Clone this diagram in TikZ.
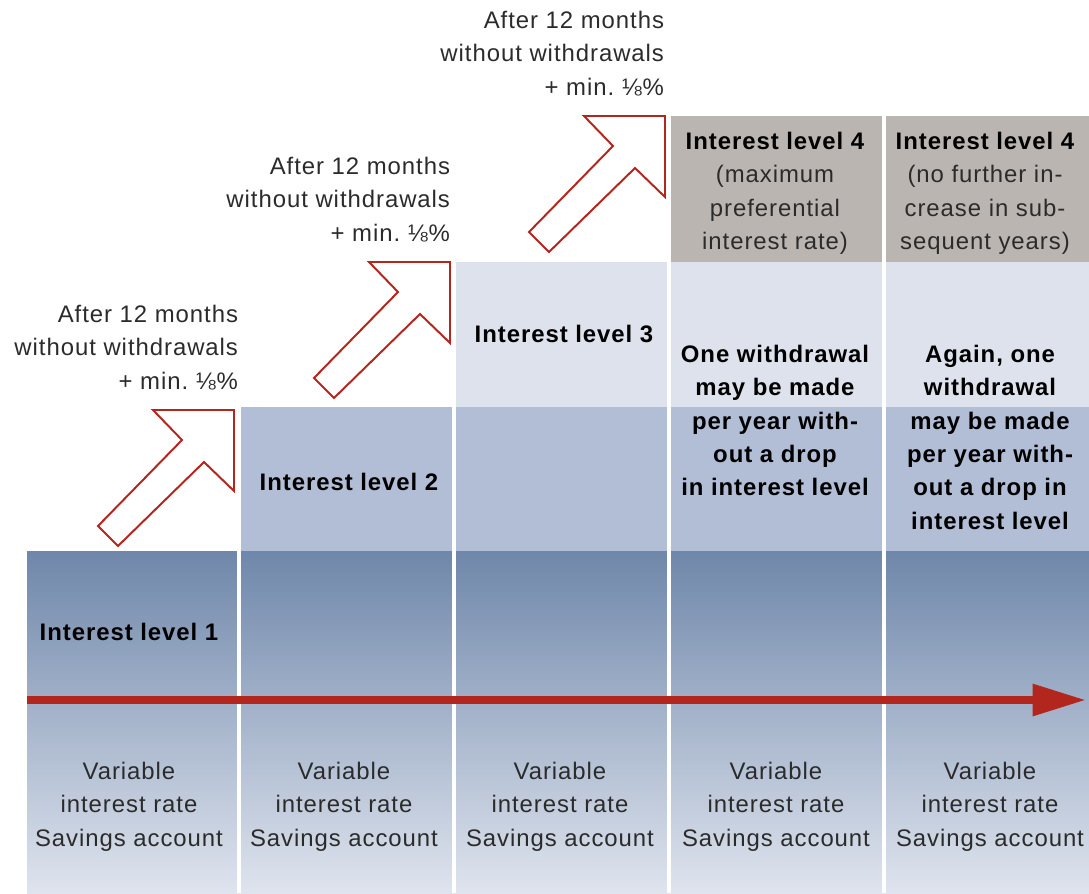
\documentclass[tikz,border=0pt]{standalone}
\usepackage{fontspec}
\setmainfont[LetterSpace=4]{Liberation Sans}
\usetikzlibrary{arrows.meta}
\definecolor{lvfour}{HTML}{BAB5B1}
\definecolor{lvthree}{HTML}{DDE2EC}
\definecolor{lvtwo}{HTML}{B2BED6}
\definecolor{lvonetop}{HTML}{6F87AA}
\definecolor{lvonebot}{HTML}{DFE4EE}
\definecolor{arrred}{HTML}{B3261E}
\definecolor{txtgray}{HTML}{2B2B2B}
\newcommand{\myeighth}{⅛}
\frenchspacing
\begin{document}
\begin{tikzpicture}[x=0.025cm,y=-0.025cm,
  txt/.style={font=\fontsize{17}{23.75}\selectfont, text=txtgray, inner sep=0pt, outer sep=0pt},
  lab/.style={txt, align=right, anchor=north east},
  ctr/.style={txt, align=center, anchor=north},
  hd/.style={txt, font=\fontsize{17}{23.75}\selectfont\bfseries, text=black, align=center, anchor=north},
  uparrow/.style={draw=arrred, fill=white, line width=1.4pt, line join=miter},
  mainarrow/.style={draw=arrred, line width=5.8pt, -{Triangle[length=37.9pt, width=21.5pt]}}
  ]
\useasboundingbox (0,0) rectangle (1089,893);
% bands
\fill[lvfour] (671,116) rectangle (1089,262);
\fill[lvthree] (456,262) rectangle (1089,407);
\fill[lvtwo] (241,407) rectangle (1089,551);
\shade[top color=lvonetop, bottom color=lvonebot] (27,551) rectangle (1089,893);
% column gaps
\foreach \g in {237,452,667,882} \fill[white] (\g,116) rectangle ++(4,777);
% outline arrows
\foreach \tx/\ty in {234/410, 450/262, 665/116}
  \draw[uparrow, shift={(\tx,\ty)}] (0,0) -- (-81,0) -- (-52,30) -- (-136,116) -- (-116,136) -- (-30,52) -- (0,81) -- cycle;
% time arrow
\coordinate (rs) at (27,700);
\coordinate (re) at (1086,700);
\draw[mainarrow] (rs) -- (re);
% labels
\node[lab] (lab1) at (238,305) {After 12 months\\without withdrawals\\+ min.\ \myeighth\%};
\node[lab] (lab2) at (450,157) {After 12 months\\without withdrawals\\+ min.\ \myeighth\%};
\node[lab] (lab3) at (664,11) {After 12 months\\without withdrawals\\+ min.\ \myeighth\%};
% level headings
\node[hd] (l1) at (129,623) {Interest level 1};
\node[hd] (l2) at (349,473) {Interest level 2};
\node[hd] (l3) at (564,325) {Interest level 3};
\node[ctr] (l4a) at (775,132) {{\color{black}\bfseries Interest level 4}\\(maximum\\preferential\\interest rate)};
\node[ctr] (l4b) at (985,132) {{\color{black}\bfseries Interest level 4}\\(no further in-\\crease in sub-\\sequent years)};
\node[hd] (w4) at (775,345) {One withdrawal\\may be made\\per year with-\\out a drop\\in interest level};
\node[hd] (w5) at (990,345) {Again, one\\withdrawal\\may be made\\per year with-\\out a drop in\\interest level};
% bottom texts
\foreach \cx [count=\i] in {129,344,560,776,990}
  \node[ctr] (v\i) at (\cx,762) {Variable\\interest rate\\Savings account};
\end{tikzpicture}
\end{document}
